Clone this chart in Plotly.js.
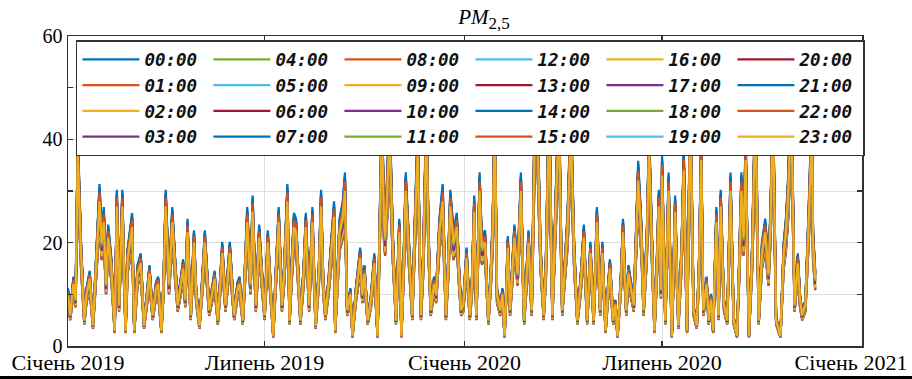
<!DOCTYPE html>
<html><head><meta charset="utf-8">
<script src="https://cdn.plot.ly/plotly-3.0.1.min.js"></script>
<style>html,body{margin:0;padding:0;background:#fff}#chart{width:912px;height:379px}</style>
</head><body><div id="chart"></div>
<script>
const startDate = Date.UTC(2019, 0, 1);

const dayOffsets = [
  0,2,5,7,9,12,15,17,20,23, 26,29,31,33,35,37,40,43,45,47, 50,53,55,59,61,64,67,70,73,75,
  78,81,83,86,88,90,93,96,99,101, 104,106,108,110,113,116,118,121,123,126, 130,133,135,138,140,142,145,149,151,153,
  156,158,161,163,165,168,170,173,176,179, 181,
  184,186,189,191,194,197,199,202,204,206, 208,210,212,214,217,219,222,225,228,231,
  233,235,237,240,243,245,246,248,250,253, 255,257,260,262,265,269,271,273,276,279,
  282,285,287,289,291,292,294,296,299,302, 305,307,309,311,314,317,319,322,325,327,
  330,332,334,337,339,342,345,348,350,352, 355,358,360,362,
  364,367,370,372,374,376,379,381,384,387, 389,391,393,395,398,400,402,405,407,409,
  411,414,417,420,422,424,427,430,432,435, 438,440,443,446,449,452,455,457,460,463,
  466,469,472,475,478,481,484,487,490,492, 495,497,499,502,504,506,509,511,514,516,
  519,521,523,525,528,530,533,535,537,540, 542,544,546,
  547,550,553,556,559,562,565,567,570,573, 576,579,581,583,585,588,590,592,594,597,
  599,601,604,607,610,613,616,618,620,622, 624,627,630,633,636,639,642,645,647,649,
  652,656,659,661,663,666,669,672,674,676, 679,682,685,686,688
];

const baseValues = [
  10,6,12,9,37,18,5,10,13,4, 16,28,20,24,12,21,15,3,27,8, 27,3,17,23,3,14,16,4,10,14,
  6,11,12,3,12,27,12,24,14,8, 12,15,9,22,6,20,10,4,10,20, 7,11,13,5,12,18,8,18,12,6,
  11,12,5,14,24,12,26,8,21,12, 6,
  20,13,2,12,24,8,14,28,5,15, 23,22,12,5,14,23,8,24,4,14,
  27,12,6,12,20,25,3,12,22,25, 30,7,10,2,10,17,10,14,5,9,
  16,2,20,42,24,21,30,42,20,5, 22,2,15,30,18,6,20,38,6,16,
  42,20,7,12,10,22,28,6,15,27, 20,23,14,7,
  8,17,6,12,26,6,30,19,20,5, 12,22,42,10,7,10,2,19,7,14,
  21,14,30,5,12,20,7,45,44,18, 6,15,45,6,26,45,7,14,23,42,
  18,5,12,21,5,18,5,24,7,18, 3,10,15,5,8,2,12,22,7,14,
  10,8,20,32,21,7,20,38,24,3, 14,27,11,
  33,5,30,2,26,4,18,34,3,45, 7,4,15,36,7,12,5,9,3,24,
  6,27,8,5,30,5,2,15,30,21, 36,2,18,46,5,18,22,14,25,46,
  5,2,18,22,29,46,8,16,9,6, 8,24,42,20,13
];

const hours = ['00:00','01:00','02:00','03:00','04:00','05:00','06:00','07:00',
  '08:00','09:00','10:00','11:00','12:00','13:00','14:00','15:00',
  '16:00','17:00','18:00','19:00','20:00','21:00','22:00','23:00'];

const hourFactors = [1.10,1.08,1.05,1.02,0.98,0.96,1.00,1.06,
  1.08,1.04,0.96,0.90,0.86,0.84,0.83,0.84,
  0.87,0.92,0.97,1.03,1.08,1.12,1.06,1.00];

const palette = ['#0072BD','#D95319','#EDB120','#7E2F8E','#77AC30','#4DBEEE','#A2142F'];

const xTickVals = ['2019-01-01','2019-07-01','2020-01-01','2020-07-01','2021-01-01'];
const xTickText = ['Січень 2019','Липень 2019','Січень 2020','Липень 2020','Січень 2021\u00a0\u00a0\u00a0\u00a0'];
const yTickVals = [0,10,20,30,40,50,60];
const yTickText = ['0','','20','','40','','60'];

const dates = dayOffsets.map(d => new Date(startDate + d*86400000).toISOString().slice(0,10));

const traces = hours.map((h, i) => {
  const row = i % 4, col = Math.floor(i / 4);
  return {
    type: 'scatter', mode: 'lines', name: h,
    x: dates,
    y: baseValues.map(v => +(v * hourFactors[i]).toFixed(2)),
    line: {color: palette[i % 7], width: 2.2},
    legendrank: row * 6 + col + 1
  };
});

const axisCol = '#333333';
const layout = {
  width: 912, height: 379,
  margin: {l: 68, r: 50, t: 36, b: 33},
  paper_bgcolor: '#ffffff', plot_bgcolor: '#ffffff',
  showlegend: true,
  title: {
    text: '<i>PM</i><sub><span style="font-size:17px">2,5</span></sub>',
    font: {family: 'Liberation Serif', size: 21, color: '#000'},
    x: 0.524, xref: 'paper', xanchor: 'center',
    y: 0.955, yref: 'container', yanchor: 'middle'
  },
  xaxis: {
    type: 'date', range: ['2019-01-01','2021-01-01 02:00'],
    tickvals: xTickVals, ticktext: xTickText,
    ticks: 'inside', ticklen: 5, tickwidth: 1.2, tickcolor: axisCol,
    showline: true, linecolor: axisCol, linewidth: 1.5, mirror: 'ticks',
    showgrid: true, gridcolor: '#dedede', gridwidth: 1,
    zeroline: false, ticklabelstandoff: -4, ticklabeloverflow: 'allow',
    tickfont: {family: 'Liberation Serif', size: 22, color: '#000'}
  },
  yaxis: {
    range: [0, 60],
    tickvals: yTickVals, ticktext: yTickText,
    ticks: 'inside', ticklen: 5, tickwidth: 1.2, tickcolor: axisCol,
    showline: true, linecolor: axisCol, linewidth: 1.5, mirror: 'ticks',
    showgrid: true, gridcolor: '#dedede', gridwidth: 1,
    zeroline: false,
    tickfont: {family: 'Liberation Serif', size: 20, color: '#000'}
  },
  legend: {
    orientation: 'h', x: 0.01, xanchor: 'left', y: 0.987, yanchor: 'top',
    bgcolor: '#ffffff', bordercolor: axisCol, borderwidth: 1.5,
    entrywidth: 59, entrywidthmode: 'pixels', itemwidth: 57,
    font: {family: 'DejaVu Sans Mono', size: 17.5, color: '#111', weight: 'bold', style: 'italic'},
    traceorder: 'normal'
  },
  shapes: [{
    type: 'rect', xref: 'paper', yref: 'paper',
    x0: -0.09, x1: 1.07, y0: -0.11, y1: -0.0968,
    fillcolor: '#000', line: {width: 0}
  }]
};

Plotly.newPlot('chart', traces, layout, {displayModeBar: false, staticPlot: true});
</script>
</body></html>
